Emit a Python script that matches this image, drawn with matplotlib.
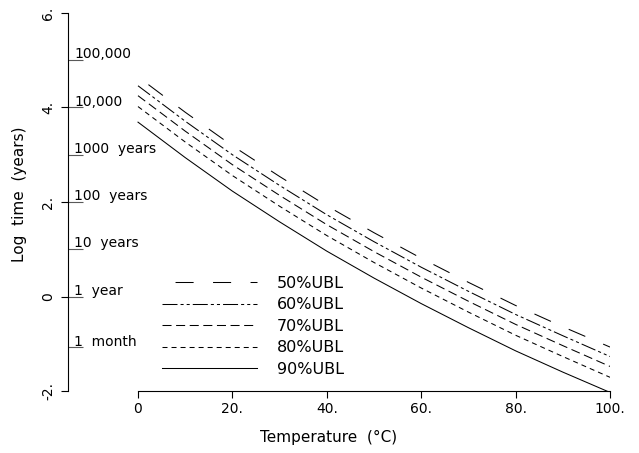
import matplotlib
matplotlib.use('Agg')
import matplotlib.pyplot as plt
from matplotlib.ticker import FixedLocator

# Temperature grid (deg C) and log10 lifetime (years) for each bound
temps = [0, 10, 20, 30, 40, 50, 60, 70, 80, 90, 100]
ubl_50 = [4.65, 3.90, 3.19, 2.54, 1.92, 1.35, 0.81, 0.30, -0.19, -0.64, -1.07]
ubl_60 = [4.46, 3.71, 3.00, 2.35, 1.73, 1.16, 0.62, 0.11, -0.38, -0.83, -1.27]
ubl_70 = [4.25, 3.50, 2.79, 2.14, 1.52, 0.95, 0.41, -0.10, -0.59, -1.04, -1.48]
ubl_80 = [4.02, 3.27, 2.56, 1.91, 1.29, 0.72, 0.18, -0.33, -0.82, -1.27, -1.71]
ubl_90 = [3.69, 2.94, 2.23, 1.58, 0.96, 0.39, -0.15, -0.66, -1.15, -1.60, -2.03]
series_labels = ['50%UBL', '60%UBL', '70%UBL', '80%UBL', '90%UBL']

# Tick values / labels
x_ticks = [0, 20, 40, 60, 80, 100]
x_tick_labels = ['0', '20.', '40.', '60.', '80.', '100.']
y_ticks = [-2, 0, 2, 4, 6]
y_tick_labels = ['-2.', '0', '2.', '4.', '6.']

# Reference durations marked inside the axis
ref_pos = [5, 4, 3, 2, 1, 0, -1.079]
ref_labels = ['100,000', '10,000', '1000  years', '100  years',
              '10  years', '1  year', '1  month']

plt.rcParams['font.family'] = 'DejaVu Sans'
plt.rcParams['lines.scale_dashes'] = False

W, H = 639, 453
fig = plt.figure(figsize=(W / 100, H / 100), dpi=100)

# axes box in pixels: y-axis at x=67.7, x=100 at 610, y from 391 (bottom) to 13 (top)
left_px, right_px, bot_px, top_px = 67.7, 610, 391, 13
ax = fig.add_axes([left_px / W, 1 - bot_px / H,
                   (right_px - left_px) / W, (bot_px - top_px) / H])
x0 = -100 * (138 - left_px) / (right_px - 138)
ax.set_xlim(x0, 100)
ax.set_ylim(-2, 6)

styles = [
    (17.6, (13, 14)),                    # long dashes
    (0, (10.8, 2.2, 2.2, 2.2, 2.2, 2.2)),  # dash dot dot
    (0, (6.5, 3.3)),                     # medium dashes
    (0, (3.6, 2.9)),                     # short dashes
    'solid',
]
data = [ubl_50, ubl_60, ubl_70, ubl_80, ubl_90]
handles = []
for vals, ls, lab in zip(data, styles, series_labels):
    ln, = ax.plot(temps, vals, color='black', linewidth=0.75, linestyle=ls, label=lab)
    handles.append(ln)

# axes styling
for side in ['top', 'right']:
    ax.spines[side].set_visible(False)
ax.spines['bottom'].set_bounds(0, 100)
for side in ['left', 'bottom']:
    ax.spines[side].set_linewidth(0.8)

ax.set_xticks(x_ticks)
ax.set_xticklabels(x_tick_labels, fontsize=10)
ax.set_yticks(y_ticks)
ax.set_yticklabels(y_tick_labels, fontsize=10, rotation=90, va='center')
ax.tick_params(axis='both', which='major', direction='out', length=5, width=0.8)
ax.tick_params(axis='x', pad=3)
ax.tick_params(axis='y', pad=4)

# inner ticks for the reference durations
ax.yaxis.set_minor_locator(FixedLocator(ref_pos))
ax.yaxis.remove_overlapping_locs = False
ax.tick_params(axis='y', which='minor', direction='in', length=10.5,
               width=0.8, color='0.35')
text_x = x0 + (74 - left_px) * 100 / (right_px - 138)
for pos, lab in zip(ref_pos, ref_labels):
    ax.text(text_x, pos + 0.04, lab, fontsize=10, ha='left', va='baseline')

ax.legend(handles=handles, loc='upper left',
          bbox_to_anchor=(162 / W, 1 - 276 / H), bbox_transform=fig.transFigure,
          frameon=False, fontsize=11.5, handlelength=5.95, handletextpad=1.25,
          labelspacing=0.40, borderpad=0, borderaxespad=0)

fig.text(329 / W, 1 - 437 / H, 'Temperature  (°C)', fontsize=11,
         ha='center', va='center')
fig.text(20 / W, 1 - 194 / H, 'Log  time  (years)', fontsize=11,
         ha='center', va='center', rotation=90)

fig.savefig('out.png', dpi=100)
